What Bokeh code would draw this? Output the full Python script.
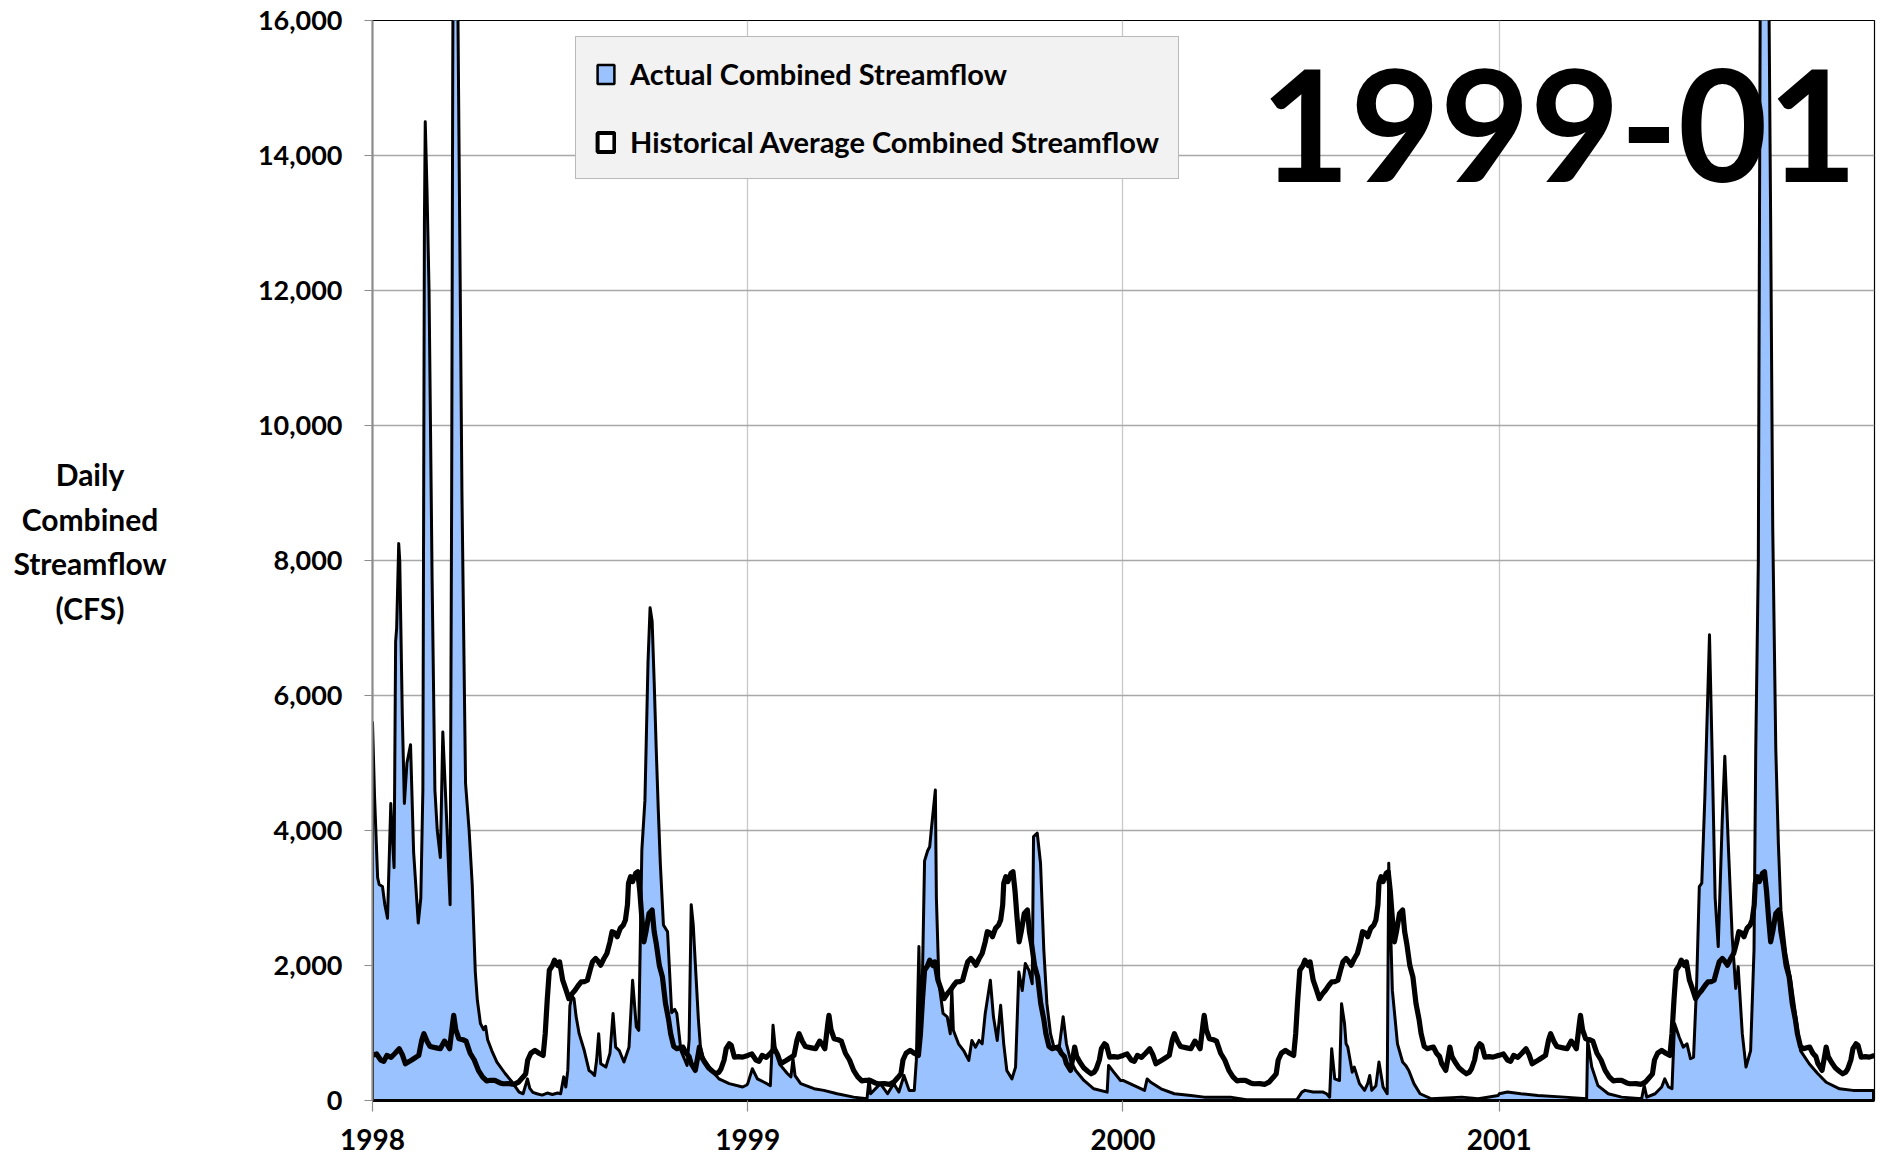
import datetime as dt
from bokeh.plotting import figure
from bokeh.layouts import row
from bokeh.models import (FixedTicker, NumeralTickFormatter, Legend, LegendItem,
                          Label, Range1d, Div)
from bokeh.embed import file_html
from bokeh.resources import INLINE

# ---------------- data ----------------
years = [1998, 1999, 2000, 2001]
year_labels = ["1998", "1999", "2000", "2001"]
y_ticks = [0, 2000, 4000, 6000, 8000, 10000, 12000, 14000, 16000]

# Historical average combined streamflow, by day of year (same every year)
hist_doy = [0, 4, 8, 11, 14, 18, 22, 26, 29, 32, 36, 40, 45, 48, 50, 53, 56, 62, 66, 70,
            73, 75, 78, 79, 81, 84, 88, 91, 95, 99, 103, 107, 111, 115, 119, 124, 127, 133,
            138, 142, 146, 149, 151, 154, 158, 162, 166, 168, 170, 172, 175, 177, 180, 182,
            185, 188, 191, 194, 197, 200, 203, 206, 209, 212, 214, 217, 219, 222, 225, 228,
            231, 233, 236, 238, 241, 244, 246, 248, 249, 251, 253, 256, 258, 260, 262, 264,
            266, 269, 272, 274, 276, 279, 282, 285, 288, 290, 293, 296, 299, 302, 305, 308,
            310, 314, 317, 318, 320, 323, 327, 331, 334, 337, 339, 342, 344, 347, 349, 352,
            356, 360, 365]
hist_cfs = [668, 690, 600, 580, 668, 640, 700, 767, 680, 545, 580, 619, 668, 900, 990, 880,
            800, 780, 767, 880, 820, 767, 1150, 1262, 1050, 916, 900, 880, 700, 600, 446, 350,
            290, 300, 297, 260, 248, 250, 240, 272, 340, 396, 600, 700, 742, 700, 668, 990,
            1500, 1930, 2000, 2079, 2000, 2054, 1782, 1650, 1510, 1580, 1634, 1700, 1757, 1760,
            1782, 1950, 2054, 2104, 2070, 2005, 2100, 2178, 2350, 2500, 2480, 2426, 2550, 2600,
            2673, 2900, 3218, 3316, 3242, 3366, 3390, 3100, 2700, 2351, 2500, 2772, 2822, 2500,
            2327, 2000, 1832, 1436, 1200, 990, 800, 767, 780, 792, 700, 650, 545, 446, 700, 792,
            650, 569, 480, 430, 396, 420, 470, 600, 767, 840, 817, 643, 650, 643, 668]

# Actual combined streamflow, by day of year
act_1998_doy = [0, 2, 5, 6.5, 9.7, 12, 14.6, 17.8, 19, 21, 22.5, 23.5, 25.5, 26.5, 29, 31,
                33.5, 37, 40, 44.5, 47, 49, 50.5, 51.3, 53, 55, 58, 60.7, 63, 66, 68.4, 72,
                75.5, 77, 78, 79.5, 81, 83.7, 87, 90.5, 94, 97, 100, 102, 105, 108, 110, 112,
                116, 121, 129, 136, 142.6, 146.5, 150.7, 153, 156, 160, 165, 170, 175, 180,
                183, 186, 188, 190, 192, 194, 196, 198, 201, 206, 210.6, 213, 216, 218, 220,
                222, 227, 231, 234, 236.5, 240, 244.6, 249.5, 253, 256.6, 259, 262, 265, 268,
                270, 272, 274, 276, 278, 280, 283, 287, 291, 294, 296, 300, 306, 308, 310, 312,
                314, 317, 319, 322, 330, 337, 347, 360, 364]
act_1998_cfs = [5600, 4500, 3300, 3200, 3170, 2900, 2700, 4400, 4000, 3450, 6800, 7000, 8250,
                8000, 5700, 4400, 5000, 5270, 3680, 2630, 3000, 4600, 13000, 14500, 13500,
                12000, 7700, 4600, 4000, 3600, 5460, 4200, 2900, 9000, 15000, 22000, 20000,
                15000, 9000, 4700, 4000, 3200, 1900, 1485, 1140, 1050, 1100, 900, 740, 570, 400,
                270, 125, 100, 320, 180, 120, 100, 80, 110, 90, 110, 100, 350, 200, 450, 1400,
                1550, 1510, 1250, 990, 740, 445, 420, 370, 600, 990, 545, 495, 700, 1290, 790,
                740, 570, 790, 1780, 1090, 1040, 3710, 4450, 6500, 7300, 7100, 6200, 5200, 4300,
                3500, 2600, 2500, 1300, 1350, 1290, 740, 520, 900, 2900, 2600, 2030, 1200, 790,
                620, 445, 320, 250, 200, 230]

act_1999_doy = [0, 4.5, 9.4, 16, 22, 24.6, 27, 32, 38.5, 42, 44, 46, 51.5, 64.5, 74, 87, 103,
                116, 118, 119.5, 129, 136, 142, 147, 152, 157, 162, 164, 166.5, 168, 170, 172,
                175, 177, 178.5, 182.5, 183.5, 186, 190, 194, 197, 198.5, 200, 205, 210, 215,
                218, 221.6, 225, 228, 231, 236, 239, 242.7, 246, 249, 252, 257, 260.5, 263.7,
                267, 270, 273.5, 276.7, 278, 281.6, 284.8, 288, 291, 294.5, 297.8, 302.6, 306.8,
                310, 314, 319, 327, 336.6, 349.6, 351, 356, 362.6]
act_1999_cfs = [250, 470, 320, 270, 220, 1115, 740, 520, 400, 350, 620, 370, 250, 175, 150,
                100, 50, 25, 320, 100, 250, 100, 250, 125, 370, 150, 150, 594, 2280, 900, 1900,
                3550, 3700, 3760, 4000, 4600, 3000, 1730, 1290, 1240, 990, 1660, 1040, 840, 740,
                594, 890, 790, 890, 840, 1290, 1780, 1240, 890, 1410, 840, 445, 320, 495, 1905,
                1630, 2030, 1930, 1730, 3910, 3960, 3515, 2230, 1435, 990, 790, 740, 1240, 840,
                594, 445, 297, 173, 124, 520, 420, 297]

act_2000_doy = [0, 11, 21, 23.5, 27, 37, 50, 66, 79, 104.5, 120, 169, 174, 177, 185, 194.6,
                198, 201, 203, 206, 210.6, 212.6, 215.5, 217, 218.7, 223, 225, 230, 235, 238,
                240, 242, 246, 249, 253, 257, 258.5, 262, 267, 272, 275, 278, 283, 289, 300,
                329.6, 345.7, 365]
act_2000_cfs = [297, 220, 150, 320, 270, 173, 100, 75, 50, 50, 10, 10, 125, 150, 125, 125,
                100, 50, 767, 320, 297, 1435, 1140, 840, 790, 420, 495, 250, 150, 250, 370, 150,
                220, 570, 200, 100, 3515, 1635, 840, 570, 520, 445, 250, 100, 25, 50, 25, 75]

act_2001_doy = [0, 8, 21, 37.5, 63.5, 85, 86, 90, 96, 106, 119, 138.5, 141, 143.5, 151.6, 158,
                161, 164.6, 168, 170.5, 175, 179, 182.6, 186, 189, 192, 194.6, 197, 200, 204.5,
                207, 210, 213, 217, 219.4, 223, 226.6, 230, 232.4, 236.4, 240, 244.5, 247.8,
                249.5, 252, 254, 256, 259, 262, 264, 266, 269, 271.5, 274, 278.7, 283.6, 288.5,
                293, 301.5, 309.7, 318, 331, 344, 364]
act_2001_cfs = [100, 125, 100, 75, 50, 25, 890, 495, 220, 100, 50, 25, 220, 50, 100, 200, 320,
                200, 175, 1140, 940, 790, 840, 620, 643, 1730, 3170, 3220, 4500, 6900, 5200,
                3000, 2280, 4200, 5100, 3710, 2425, 1660, 1980, 990, 495, 740, 2230, 5200, 8000,
                17000, 30000, 27000, 17000, 13000, 8500, 5200, 3800, 2820, 2180, 1780, 1240, 740,
                545, 400, 270, 173, 150, 150]

actual_doy = [act_1998_doy, act_1999_doy, act_2000_doy, act_2001_doy]
actual_cfs = [act_1998_cfs, act_1999_cfs, act_2000_cfs, act_2001_cfs]

series_names = ["Actual Combined Streamflow", "Historical Average Combined Streamflow"]
y_title_lines = ["Daily", "Combined", "Streamflow", "(CFS)"]
period_label = "1999-01"

# ---------------- build x positions (days since 1998-01-01) ----------------
base = dt.date(years[0], 1, 1)
year_start = [(dt.date(y, 1, 1) - base).days for y in years]
x_end = (dt.date(years[-1] + 1, 1, 1) - base).days

ax_x, ax_y = [], []
for ys, doys, vals in zip(year_start, actual_doy, actual_cfs):
    ax_x += [ys + d for d in doys]
    ax_y += vals
patch_x = ax_x + [ax_x[-1], ax_x[0]]
patch_y = ax_y + [0, 0]

hx, hy = [], []
for ys in year_start:
    hx += [ys + d for d in hist_doy]
    hy += hist_cfs

FONT = "Lato"
BLUE = "#99c2ff"
W, H = 1878, 1164
TITLE_W = 180                      # width of the y-title column left of the figure
LEFT, TOP, RIGHT, BOTTOM = 372, 20, 4, 64
NAN = float("nan")

p = figure(width=W - TITLE_W, height=H, output_backend="svg", toolbar_location=None,
           x_range=Range1d(0, x_end), y_range=Range1d(0, 16000),
           min_border_left=LEFT - TITLE_W, min_border_right=RIGHT,
           min_border_top=TOP, min_border_bottom=BOTTOM)
p.background_fill_color = "white"
p.border_fill_color = "white"
p.outline_line_color = "black"
p.outline_line_width = 1.2

act_r = p.patch(patch_x, patch_y, fill_color=BLUE, line_color="black", line_width=3,
                line_join="round")
hist_r = p.line(hx, hy, line_color="black", line_width=5.2, line_join="round")

# legend swatches: patches with one missing point (nothing drawn in the plot)
sw1 = p.patch([NAN], [NAN], fill_color=BLUE, line_color="black", line_width=2.5)
sw2 = p.patch([NAN], [NAN], fill_color="white", line_color="black", line_width=4)

legend = Legend(items=[LegendItem(label=series_names[0], renderers=[sw1]),
                       LegendItem(label=series_names[1], renderers=[sw2])],
                location=(203, 921), orientation="vertical",
                glyph_width=21, glyph_height=24, label_height=19,
                label_standoff=14, spacing=33, padding=19,
                background_fill_color="#f2f2f2", background_fill_alpha=1.0,
                border_line_color="#7f7f7f", border_line_width=1.2,
                label_text_font=FONT, label_text_font_style="bold",
                label_text_font_size="29px", label_text_color="black")
p.add_layout(legend, "center")

# axes
p.yaxis.ticker = FixedTicker(ticks=y_ticks)
p.yaxis.formatter = NumeralTickFormatter(format="0,0")
p.xaxis.ticker = FixedTicker(ticks=year_start)
p.xaxis.major_label_overrides = {ys: lab for ys, lab in zip(year_start, year_labels)}

for ax in (p.xaxis, p.yaxis):
    ax.major_label_text_font = FONT
    ax.major_label_text_font_style = "bold"
    ax.major_label_text_color = "black"
    ax.minor_tick_line_color = None
    ax.major_tick_in = 0
    ax.major_tick_line_color = "#8c8c8c"
    ax.major_tick_line_width = 1.2

p.yaxis.major_label_text_font_size = "27px"
p.yaxis.major_tick_out = 8
p.yaxis.major_label_standoff = 22
p.yaxis.axis_line_color = "#8c8c8c"
p.yaxis.axis_line_width = 2

p.xaxis.major_label_text_font_size = "28px"
p.xaxis.major_tick_out = 11
p.xaxis.major_label_standoff = 17
p.xaxis.axis_line_color = "black"
p.xaxis.axis_line_width = 3

p.ygrid.grid_line_color = "#a8a8a8"
p.ygrid.grid_line_width = 1.3
p.xgrid.grid_line_color = "#c8c8c8"
p.xgrid.grid_line_width = 1.3

big = Label(x=1485, y=H - 189, x_units="screen", y_units="screen", text=period_label,
            text_font=FONT, text_font_style="bold", text_font_size="155px",
            text_color="black", text_align="right", text_baseline="alphabetic")
p.add_layout(big)

# y-axis title: four centred lines in a column to the left of the figure
title_html = ('<div style="padding-top:452px; width:%dpx; text-align:center; '
              'font-family:Lato; font-weight:bold; font-size:30px; line-height:44.5px; '
              'color:black;">%s</div>' % (TITLE_W, "<br>".join(y_title_lines)))
ytitle = Div(text=title_html, width=TITLE_W, height=H, margin=(0, 0, 0, 0))

layout = row(ytitle, p, spacing=0)
open("out.html", "w").write(file_html(layout, INLINE))
